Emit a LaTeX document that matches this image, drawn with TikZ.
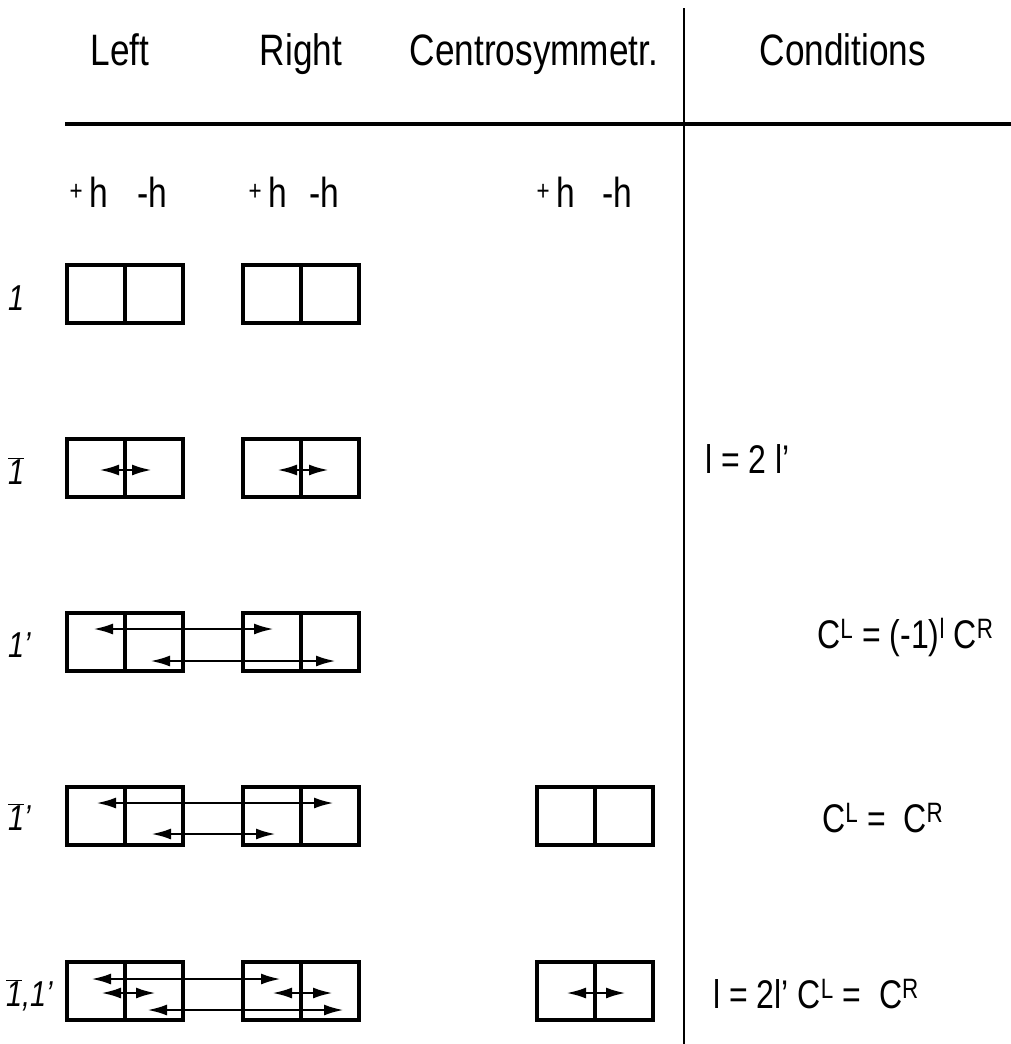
\documentclass[tikz,border=0pt]{standalone}
\usepackage{fontspec}
\setmainfont[FakeStretch=0.8]{Liberation Sans}
\usetikzlibrary{arrows.meta}
\begin{document}
\begin{tikzpicture}[x=1pt,y=-1pt,
  pairbox/.style={draw, line width=3.4pt, minimum width=116pt, minimum height=58pt, inner sep=0pt},
  divline/.style={line width=3.2pt},
  dbl/.style={line width=2.8pt, {Latex[length=20pt,width=11pt]}-{Latex[length=20pt,width=11pt]}},
  head/.style={font=\fontsize{44}{44}\selectfont, anchor=base, inner sep=0pt},
  hlab/.style={font=\fontsize{42}{42}\selectfont, anchor=base, inner sep=0pt},
  rowlab/.style={font=\fontsize{36}{36}\selectfont\itshape, anchor=base west, inner sep=0pt},
  cond/.style={font=\fontsize{40}{40}\selectfont, anchor=base west, inner sep=0pt}]
\useasboundingbox (0,0) rectangle (1011,1044);
\fill[white] (0,0) rectangle (1011,1044);

% header
\node[head] (hL) at (120,65) {Left};
\node[head] (hR) at (301,65) {Right};
\node[head] (hC) at (534,65) {Centrosymmetr.};
\node[head] (hD) at (843,65) {Conditions};
\coordinate (hl1) at (65,124);
\coordinate (hl2) at (1011,124);
\draw[line width=3.4pt] (hl1) -- (hl2);
\coordinate (vl1) at (684,8);
\coordinate (vl2) at (684,1044);
\draw[line width=2.6pt] (vl1) -- (vl2);

% +h -h
\newcommand{\ph}{\raisebox{7pt}{\fontsize{28}{28}\selectfont +}\,h}
\node[hlab] (p1) at (89,207) {\ph};
\node[hlab] (m1) at (152,207) {-h};
\node[hlab] (p2) at (268,207) {\ph};
\node[hlab] (m2) at (324,207) {-h};
\node[hlab] (p3) at (556,207) {\ph};
\node[hlab] (m3) at (617,207) {-h};

% row labels
\newcommand{\ob}{$\overline{\textit{1}}$}
\node[rowlab] (r1) at (8,310) {1};
\node[rowlab] (r2) at (8,484) {\ob};
\node[rowlab] (r3) at (8,657) {1’};
\node[rowlab] (r4) at (8,830) {\ob’};
\node[rowlab] (r5) at (6,1006) {\ob,1’};

% boxes
\foreach \n/\x/\y in {L1/125/294, R1/301/294, L2/125/468, R2/301/468, L3/125/642, R3/301/642, L4/125/816, R4/301/816, C4/595/816, L5/125/991, R5/301/991, C5/595/991}{
  \node[pairbox] (\n) at (\x,\y) {};
  \draw[divline] (\n.north) -- (\n.south);
}

% row 2 arrows
\coordinate (a2a) at (99,470); \coordinate (a2b) at (152,470);
\coordinate (a2c) at (277,470); \coordinate (a2d) at (329,470);
\draw[dbl] (a2a) -- (a2b);
\draw[dbl] (a2c) -- (a2d);

% row 3 arrows
\coordinate (a3a) at (93,629); \coordinate (a3b) at (274,629);
\coordinate (a3c) at (150,661); \coordinate (a3d) at (336,661);
\draw[dbl] (a3a) -- (a3b);
\draw[dbl] (a3c) -- (a3d);

% row 4 arrows
\coordinate (a4a) at (96,803); \coordinate (a4b) at (334,803);
\coordinate (a4c) at (151,834); \coordinate (a4d) at (276,834);
\draw[dbl] (a4a) -- (a4b);
\draw[dbl] (a4c) -- (a4d);

% row 5 arrows
\coordinate (a5a) at (91,979); \coordinate (a5b) at (281,979);
\coordinate (a5c) at (101,993); \coordinate (a5d) at (156,993);
\coordinate (a5e) at (272,993); \coordinate (a5f) at (333,993);
\coordinate (a5g) at (147,1010); \coordinate (a5h) at (344,1010);
\coordinate (a5i) at (566,993); \coordinate (a5j) at (626,993);
\draw[dbl] (a5a) -- (a5b);
\draw[dbl] (a5c) -- (a5d);
\draw[dbl] (a5e) -- (a5f);
\draw[dbl] (a5g) -- (a5h);
\draw[dbl] (a5i) -- (a5j);

% conditions
\node[cond] (c2) at (705,473) {l = 2 l’};
\node[cond] (c3) at (817,648) {C\textsuperscript{L} = (-1)\textsuperscript{l} C\textsuperscript{R}};
\node[cond] (c4) at (822,832) {C\textsuperscript{L} = \ C\textsuperscript{R}};
\node[cond] (c5) at (713,1008) {l = 2l’ C\textsuperscript{L} = \ C\textsuperscript{R}};
\end{tikzpicture}
\end{document}
